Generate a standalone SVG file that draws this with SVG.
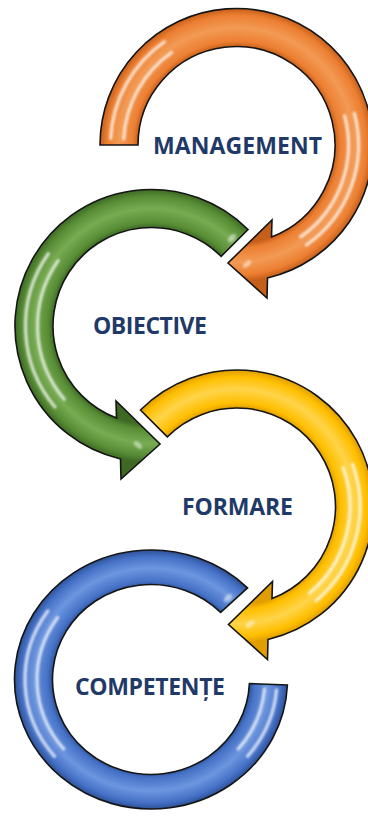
<svg xmlns="http://www.w3.org/2000/svg" width="368" height="818" viewBox="0 0 368 818">
<style>
 .arrow { stroke:#151515; stroke-width:1.6; stroke-linejoin:miter; }
 .hl { fill:none; stroke:#ffffff; stroke-width:3.4; stroke-linecap:round; opacity:0.72; filter:url(#soft); }
 .spot { fill:#ffffff; opacity:0.5; filter:url(#soft); }
 .label { font-family:"Open Sans","Liberation Sans",sans-serif; font-weight:700; font-size:23px; fill:#1F3A68; text-anchor:middle; }
</style>
<defs>
 <filter id="soft" x="-30%" y="-30%" width="160%" height="160%"><feGaussianBlur stdDeviation="1"/></filter>
 <radialGradient id="gOrange" gradientUnits="userSpaceOnUse" cx="236.5" cy="145" r="136.5">
  <stop offset="0.72" stop-color="#C65F1A"/>
  <stop offset="0.76" stop-color="#EC7F32"/>
  <stop offset="0.86" stop-color="#F39A54"/>
  <stop offset="0.95" stop-color="#EC7F32"/>
  <stop offset="1" stop-color="#C65F1A"/>
 </radialGradient>
 <radialGradient id="gGreen" gradientUnits="userSpaceOnUse" cx="151.5" cy="326" r="136.5">
  <stop offset="0.72" stop-color="#3D6923"/>
  <stop offset="0.76" stop-color="#588D36"/>
  <stop offset="0.86" stop-color="#77AC53"/>
  <stop offset="0.95" stop-color="#588D36"/>
  <stop offset="1" stop-color="#3D6923"/>
 </radialGradient>
 <radialGradient id="gYellow" gradientUnits="userSpaceOnUse" cx="237" cy="506.5" r="136.5">
  <stop offset="0.72" stop-color="#E09E00"/>
  <stop offset="0.76" stop-color="#FFBF00"/>
  <stop offset="0.86" stop-color="#FFD44A"/>
  <stop offset="0.95" stop-color="#FFBF00"/>
  <stop offset="1" stop-color="#E09E00"/>
 </radialGradient>
 <radialGradient id="gBlue" gradientUnits="userSpaceOnUse" cx="0" cy="0" r="136.5" gradientTransform="matrix(1 0 0 0.9487 151 679.5)">
  <stop offset="0.72" stop-color="#2D5197"/>
  <stop offset="0.76" stop-color="#4672C7"/>
  <stop offset="0.86" stop-color="#6D96DF"/>
  <stop offset="0.95" stop-color="#4672C7"/>
  <stop offset="1" stop-color="#2D5197"/>
 </radialGradient>
</defs>

<g id="connectors"></g>

<g id="node-management">
 <path class="arrow" fill="url(#gOrange)" d="M 138 145 L 100 145 A 136.5 136.5 0 1 1 267.5 277.93 L 267 298 L 228 263 L 272 220 L 271.5 237.07 A 98.5 98.5 0 1 0 138 145 Z"/>
 <path class="hl" d="M 110.67 138.41 A 126 126 0 0 1 164.23 41.78"/>
 <path class="hl" d="M 123.66 139.09 A 113 113 0 0 1 171.68 52.43"/>
 <path class="hl" d="M 354.34 113.42 A 122 122 0 0 1 306.48 244.94"/>
 <path class="hl" d="M 344.68 116.01 A 112 112 0 0 1 300.74 236.75"/>
 <ellipse class="spot" cx="247" cy="264" rx="5" ry="2.5" transform="rotate(-40 247 264)"/>
 <text class="label" x="237.5" y="154" textLength="169">MANAGEMENT</text>
</g>

<g id="node-obiective">
 <path class="arrow" fill="url(#gGreen)" d="M 221.15 256.35 L 248 229.5 A 136.5 136.5 0 1 0 120.5 458.93 L 121 479 L 160 444 L 116 401 L 116.5 418.07 A 98.5 98.5 0 1 1 221.15 256.35 Z"/>
 <path class="hl" d="M 48.28 253.73 A 126 126 0 0 0 54.98 406.99"/>
 <path class="hl" d="M 58.11 260.61 A 114 114 0 0 0 64.18 399.28"/>
 <ellipse class="spot" cx="232" cy="238" rx="5" ry="3" transform="rotate(-45 232 238)"/>
 <ellipse class="spot" cx="138" cy="445" rx="5" ry="2.5" transform="rotate(40 138 445)"/>
 <text class="label" x="150" y="334" textLength="114">OBIECTIVE</text>
</g>

<g id="node-formare">
 <path class="arrow" fill="url(#gYellow)" d="M 167.35 436.85 L 140.48 409.98 A 136.5 136.5 0 1 1 268 639.43 L 267.5 659.5 L 228.5 624.5 L 272.5 581.5 L 272 598.57 A 98.5 98.5 0 1 0 167.35 436.85 Z"/>
 <path class="hl" d="M 352.58 464.43 A 123 123 0 0 1 316.06 600.72"/>
 <path class="hl" d="M 343.19 467.85 A 113 113 0 0 1 309.63 593.06"/>
 <ellipse class="spot" cx="250" cy="624" rx="5" ry="2.5" transform="rotate(-40 250 624)"/>
 <text class="label" x="237.5" y="515" textLength="111">FORMARE</text>
</g>

<g id="node-competente">
 <path class="arrow" fill="url(#gBlue)" d="M 220.65 612.32 L 247.5 587.9 A 136.5 129.5 0 1 0 287.4 685 L 249.4 683.5 A 98.5 95 0 1 1 220.65 612.32 Z"/>
 <path class="hl" d="M 47.78 610.95 A 126 119.5 0 0 0 54.48 756.31"/>
 <path class="hl" d="M 57.61 617.55 A 114 108 0 0 0 63.68 748.92"/>
 <path class="hl" d="M 276.52 689.91 A 126 119.5 0 0 1 247.52 756.31"/>
 <path class="hl" d="M 264.57 688.91 A 114 108 0 0 1 238.33 748.92"/>
 <ellipse class="spot" cx="228" cy="598" rx="5" ry="3" transform="rotate(-45 228 598)"/>
 <text class="label" x="150" y="695" textLength="150">COMPETENȚE</text>
</g>
</svg>
